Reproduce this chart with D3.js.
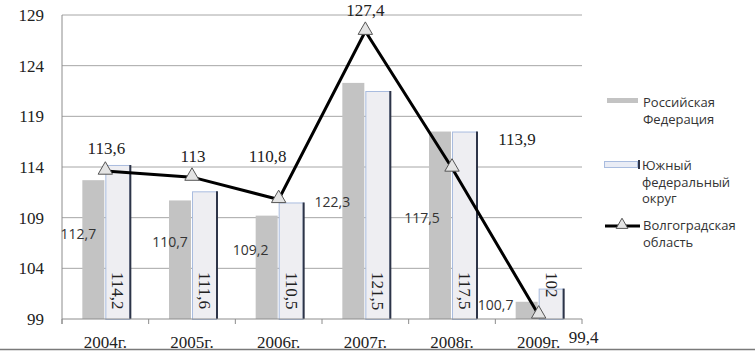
<!DOCTYPE html>
<html>
<head>
<meta charset="utf-8">
<script src="https://cdn.jsdelivr.net/npm/d3@7"></script>
<style>
  body { margin: 0; background: #fff; }
  svg { display: block; }
  .serif { font-family: "Liberation Serif", "Times New Roman", serif; fill: #222; }
  .sans { font-family: "Open Sans", "Liberation Sans", sans-serif; fill: #333; }
</style>
</head>
<body>
<div id="chart"></div>
<script>
// Data
const years = ["2004г.", "2005г.", "2006г.", "2007г.", "2008г.", "2009г."];
const rfValues = [112.7, 110.7, 109.2, 122.3, 117.5, 100.7];     // Российская Федерация
const ufoValues = [114.2, 111.6, 110.5, 121.5, 117.5, 102];      // Южный федеральный округ
const volgValues = [113.6, 113, 110.8, 127.4, 113.9, 99.4];      // Волгоградская область
const yTicks = [99, 104, 109, 114, 119, 124, 129];

// Label nudges (px) - the original labels sit where Excel dropped them
const rfLabelShift = [[-15, 59], [-10, 47], [-16, 39], [-21, 124], [-18, 91], [-31, 8]];
const volgLabelShift = [[1, -17], [1, -15], [-11, -37], [0, -15], [65, -23], [45, 28]];

const fmt = v => String(v).replace(".", ",");

const width = 755, height = 351;
const margin = {top: 15, right: 173, bottom: 32, left: 62};

const svg = d3.select("#chart").append("svg")
    .attr("width", width)
    .attr("height", height);

const x = d3.scaleBand()
    .domain(years)
    .range([margin.left, width - margin.right]);

const y = d3.scaleLinear()
    .domain([99, 129])
    .range([height - margin.bottom, margin.top]);

const cx = d => x(d) + x.bandwidth() / 2;

// Gridlines
svg.append("g")
    .selectAll("line")
    .data(yTicks.slice(1))
    .join("line")
    .attr("x1", margin.left)
    .attr("x2", width - margin.right)
    .attr("y1", d => y(d))
    .attr("y2", d => y(d))
    .attr("stroke", "#a6a6a6")
    .attr("stroke-width", 1);

// Y axis labels
svg.append("g")
    .selectAll("text")
    .data(yTicks)
    .join("text")
    .attr("class", "serif")
    .attr("x", 44)
    .attr("y", d => y(d) + 6)
    .attr("text-anchor", "end")
    .attr("font-size", 17)
    .text(d => d);

// Bars: Российская Федерация
svg.append("g")
    .selectAll("rect")
    .data(rfValues)
    .join("rect")
    .attr("x", (d, i) => cx(years[i]) - 23)
    .attr("width", 22)
    .attr("y", d => y(d))
    .attr("height", d => y(99) - y(d))
    .attr("fill", "#c3c3c3");

// Bars: Южный федеральный округ
const ufo = svg.append("g");
ufo.selectAll("rect")
    .data(ufoValues)
    .join("rect")
    .attr("x", (d, i) => cx(years[i]) + 0.5)
    .attr("width", 24)
    .attr("y", d => y(d) + 0.5)
    .attr("height", d => y(99) - y(d))
    .attr("fill", "#eeeef2")
    .attr("stroke", "#a9bcdf")
    .attr("stroke-width", 1);
ufo.selectAll("line")
    .data(ufoValues)
    .join("line")
    .attr("x1", (d, i) => cx(years[i]) + 25)
    .attr("x2", (d, i) => cx(years[i]) + 25)
    .attr("y1", d => y(d))
    .attr("y2", y(99))
    .attr("stroke", "#2d3448")
    .attr("stroke-width", 2);

// X axis
const xAxis = svg.append("g");
xAxis.append("line")
    .attr("x1", margin.left)
    .attr("x2", width - margin.right)
    .attr("y1", y(99))
    .attr("y2", y(99))
    .attr("stroke", "#8c8c8c");
xAxis.selectAll(".tick")
    .data(years.concat(["end"]))
    .join("line")
    .attr("class", "tick")
    .attr("x1", (d, i) => i < years.length ? x(d) : width - margin.right)
    .attr("x2", (d, i) => i < years.length ? x(d) : width - margin.right)
    .attr("y1", y(99))
    .attr("y2", y(99) + 5)
    .attr("stroke", "#8c8c8c");
svg.append("line")
    .attr("x1", margin.left)
    .attr("x2", margin.left)
    .attr("y1", margin.top)
    .attr("y2", y(99) + 5)
    .attr("stroke", "#8c8c8c");
xAxis.selectAll("text")
    .data(years)
    .join("text")
    .attr("class", "serif")
    .attr("x", d => cx(d))
    .attr("y", 348)
    .attr("text-anchor", "middle")
    .attr("font-size", 17)
    .text(d => d);

// Line: Волгоградская область
const line = d3.line()
    .x((d, i) => cx(years[i]))
    .y(d => y(d));

svg.append("path")
    .datum(volgValues)
    .attr("d", line)
    .attr("fill", "none")
    .attr("stroke", "#000")
    .attr("stroke-width", 3);

const tri = d3.symbol().type(d3.symbolTriangle).size(90);
svg.append("g")
    .selectAll("path")
    .data(volgValues)
    .join("path")
    .attr("d", tri)
    .attr("transform", (d, i) => `translate(${cx(years[i])},${y(d) - 1})`)
    .attr("fill", "#e4e4e4")
    .attr("stroke", "#555")
    .attr("stroke-width", 1);

// Labels
svg.append("g")
    .selectAll("text")
    .data(rfValues)
    .join("text")
    .attr("class", "sans")
    .attr("x", (d, i) => cx(years[i]) - 12 + rfLabelShift[i][0])
    .attr("y", (d, i) => y(d) + rfLabelShift[i][1])
    .attr("text-anchor", "middle")
    .attr("font-size", 14)
    .text(fmt);

svg.append("g")
    .selectAll("text")
    .data(ufoValues)
    .join("text")
    .attr("class", "serif")
    .attr("transform", (d, i) => `translate(${cx(years[i]) + 7},272) rotate(90)`)
    .attr("font-size", 17)
    .text(fmt);

svg.append("g")
    .selectAll("text")
    .data(volgValues)
    .join("text")
    .attr("class", "serif")
    .attr("x", (d, i) => cx(years[i]) + volgLabelShift[i][0])
    .attr("y", (d, i) => y(d) + volgLabelShift[i][1])
    .attr("text-anchor", "middle")
    .attr("font-size", 17)
    .text(fmt);

// Legend
const legend = svg.append("g").attr("class", "legend");
const lx = 604;

legend.append("rect")
    .attr("x", lx + 3).attr("y", 98)
    .attr("width", 31).attr("height", 5)
    .attr("fill", "#c3c3c3");
legend.append("text").attr("class", "sans").attr("font-size", 13)
    .selectAll("tspan")
    .data(["Российская", "Федерация"])
    .join("tspan")
    .attr("x", lx + 39)
    .attr("y", (d, i) => 107 + i * 17)
    .text(d => d);

legend.append("rect")
    .attr("x", lx + 0.5).attr("y", 161.5)
    .attr("width", 33).attr("height", 6)
    .attr("fill", "#e9ecf5")
    .attr("stroke", "#a9bcdf");
legend.append("line")
    .attr("x1", lx + 35).attr("x2", lx + 35)
    .attr("y1", 160).attr("y2", 169)
    .attr("stroke", "#2d3448").attr("stroke-width", 2);
legend.append("text").attr("class", "sans").attr("font-size", 13)
    .selectAll("tspan")
    .data(["Южный", "федеральный", "округ"])
    .join("tspan")
    .attr("x", lx + 38)
    .attr("y", (d, i) => 170 + i * 16.7)
    .text(d => d);

legend.append("line")
    .attr("x1", lx + 1).attr("x2", lx + 36)
    .attr("y1", 226).attr("y2", 226)
    .attr("stroke", "#000").attr("stroke-width", 3);
legend.append("path")
    .attr("d", d3.symbol().type(d3.symbolTriangle).size(60))
    .attr("transform", `translate(${lx + 18},225)`)
    .attr("fill", "#e4e4e4")
    .attr("stroke", "#555");
legend.append("text").attr("class", "sans").attr("font-size", 13)
    .selectAll("tspan")
    .data(["Волгоградская", "область"])
    .join("tspan")
    .attr("x", lx + 39)
    .attr("y", (d, i) => 230 + i * 17)
    .text(d => d);

// Frame line at the bottom of the picture
svg.append("line")
    .attr("x1", 0).attr("x2", width)
    .attr("y1", 349.5).attr("y2", 349.5)
    .attr("stroke", "#7a7a7a").attr("stroke-width", 1.5);
</script>
</body>
</html>
